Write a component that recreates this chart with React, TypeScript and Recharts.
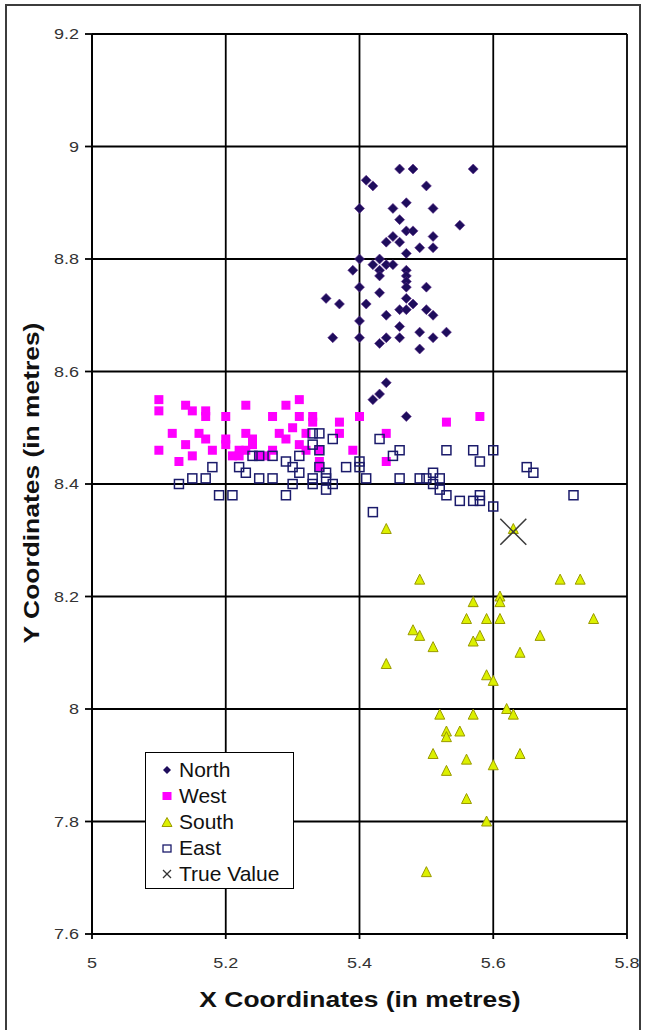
import { ScatterChart, Scatter, XAxis, YAxis, CartesianGrid } from "recharts";

const xTicks = [5, 5.2, 5.4, 5.6, 5.8];
const yTicks = [7.6, 7.8, 8, 8.2, 8.4, 8.6, 8.8, 9, 9.2];

// [x, y] in metres
const north = [
  [5.46, 8.96], [5.48, 8.96], [5.57, 8.96], [5.41, 8.94], [5.42, 8.93], [5.5, 8.93],
  [5.47, 8.9], [5.4, 8.89], [5.45, 8.89], [5.51, 8.89], [5.46, 8.87], [5.55, 8.86],
  [5.47, 8.85], [5.48, 8.85], [5.45, 8.84], [5.51, 8.84], [5.44, 8.83], [5.46, 8.83],
  [5.49, 8.82], [5.51, 8.82], [5.47, 8.81], [5.4, 8.8], [5.43, 8.8], [5.44, 8.79],
  [5.45, 8.79], [5.42, 8.79], [5.43, 8.78], [5.39, 8.78], [5.47, 8.78], [5.43, 8.77],
  [5.47, 8.77], [5.47, 8.76], [5.47, 8.75], [5.4, 8.75], [5.5, 8.75], [5.43, 8.74],
  [5.35, 8.73], [5.37, 8.72], [5.41, 8.72], [5.47, 8.73], [5.48, 8.72], [5.46, 8.71],
  [5.47, 8.71], [5.5, 8.71], [5.44, 8.7], [5.51, 8.7], [5.4, 8.69], [5.46, 8.68],
  [5.36, 8.66], [5.4, 8.66], [5.43, 8.65], [5.44, 8.66], [5.46, 8.66], [5.49, 8.67],
  [5.51, 8.66], [5.53, 8.67], [5.49, 8.64], [5.44, 8.58], [5.43, 8.56], [5.42, 8.55],
  [5.47, 8.52],
];

const west = [
  [5.1, 8.55], [5.1, 8.53], [5.1, 8.46], [5.12, 8.49], [5.14, 8.54], [5.15, 8.53],
  [5.17, 8.53], [5.17, 8.52], [5.2, 8.52], [5.23, 8.54], [5.14, 8.47], [5.15, 8.45],
  [5.13, 8.44], [5.16, 8.49], [5.17, 8.48], [5.18, 8.46], [5.2, 8.48], [5.2, 8.47],
  [5.21, 8.45], [5.22, 8.46], [5.22, 8.45], [5.23, 8.49], [5.29, 8.54], [5.31, 8.55],
  [5.27, 8.52], [5.31, 8.52], [5.33, 8.52], [5.37, 8.51], [5.37, 8.49], [5.4, 8.52],
  [5.24, 8.48], [5.24, 8.47], [5.28, 8.49], [5.29, 8.48], [5.31, 8.47], [5.32, 8.46],
  [5.34, 8.46], [5.39, 8.46], [5.34, 8.43], [5.26, 8.45], [5.23, 8.46], [5.27, 8.46],
  [5.53, 8.51], [5.58, 8.52], [5.44, 8.49], [5.44, 8.44], [5.33, 8.51], [5.34, 8.44],
  [5.25, 8.45], [5.3, 8.5], [5.32, 8.49],
];

const south = [
  [5.44, 8.32], [5.63, 8.32], [5.49, 8.23], [5.7, 8.23], [5.73, 8.23], [5.57, 8.19],
  [5.61, 8.2], [5.61, 8.19], [5.56, 8.16], [5.59, 8.16], [5.61, 8.16], [5.75, 8.16],
  [5.48, 8.14], [5.49, 8.13], [5.58, 8.13], [5.67, 8.13], [5.57, 8.12], [5.51, 8.11],
  [5.64, 8.1], [5.44, 8.08], [5.59, 8.06], [5.6, 8.05], [5.62, 8.0], [5.63, 7.99],
  [5.52, 7.99], [5.57, 7.99], [5.53, 7.96], [5.55, 7.96], [5.53, 7.95], [5.51, 7.92],
  [5.56, 7.91], [5.64, 7.92], [5.6, 7.9], [5.53, 7.89], [5.56, 7.84], [5.59, 7.8],
  [5.5, 7.71],
];

const east = [
  [5.13, 8.4], [5.15, 8.41], [5.17, 8.41], [5.18, 8.43], [5.19, 8.38], [5.21, 8.38],
  [5.22, 8.43], [5.23, 8.42], [5.24, 8.45], [5.25, 8.41], [5.25, 8.45], [5.27, 8.45],
  [5.27, 8.41], [5.29, 8.44], [5.29, 8.38], [5.3, 8.43], [5.3, 8.4], [5.31, 8.45],
  [5.31, 8.42], [5.33, 8.41], [5.33, 8.4], [5.33, 8.49], [5.33, 8.47], [5.34, 8.49],
  [5.34, 8.46], [5.34, 8.43], [5.35, 8.42], [5.35, 8.41], [5.35, 8.39], [5.36, 8.48],
  [5.36, 8.4], [5.38, 8.43], [5.43, 8.48], [5.46, 8.46], [5.45, 8.45], [5.53, 8.46],
  [5.57, 8.46], [5.6, 8.46], [5.58, 8.44], [5.4, 8.44], [5.4, 8.43], [5.41, 8.41],
  [5.46, 8.41], [5.49, 8.41], [5.5, 8.41], [5.51, 8.42], [5.51, 8.4], [5.52, 8.41],
  [5.52, 8.39], [5.53, 8.38], [5.55, 8.37], [5.57, 8.37], [5.58, 8.38], [5.58, 8.37],
  [5.6, 8.36], [5.42, 8.35], [5.65, 8.43], [5.66, 8.42], [5.72, 8.38],
];

const trueValue = [[5.63, 8.315]];

const legendNames = ["North", "West", "South", "East", "True Value"];

const toPts = (arr: number[][]) => arr.map(([x, y]) => ({ x, y }));

const font = "'Liberation Sans', Arial, sans-serif";

const NORTH_C = "#1e0d5c";
const WEST_C = "#ff00ff";
const SOUTH_FILL = "#dcf000";
const SOUTH_LINE = "#9a9a00";
const EAST_C = "#1b1b6b";

// the original is a bit stretched sideways, so text is too
const STRETCH = 1.2;

const Diamond = (p: any) => {
  const r = 5;
  return (
    <path
      d={`M${p.cx},${p.cy - r}L${p.cx + r},${p.cy}L${p.cx},${p.cy + r}L${p.cx - r},${p.cy}Z`}
      fill={NORTH_C}
      stroke="#5a2a8a"
      strokeWidth={0.6}
    />
  );
};

const FilledSquare = (p: any) => (
  <rect x={p.cx - 4.5} y={p.cy - 4.5} width={9} height={9} fill={WEST_C} />
);

const Triangle = (p: any) => (
  <path
    d={`M${p.cx},${p.cy - 5.5}L${p.cx + 5},${p.cy + 4.5}L${p.cx - 5},${p.cy + 4.5}Z`}
    fill={SOUTH_FILL}
    stroke={SOUTH_LINE}
    strokeWidth={1}
  />
);

const OpenSquare = (p: any) => (
  <rect x={p.cx - 4.5} y={p.cy - 4.5} width={9} height={9} fill="none" stroke={EAST_C} strokeWidth={1.5} />
);

const BigCross = (p: any) => {
  const r = 13;
  return (
    <g stroke="#3a3a3a" strokeWidth={1.5}>
      <line x1={p.cx - r} y1={p.cy - r} x2={p.cx + r} y2={p.cy + r} />
      <line x1={p.cx - r} y1={p.cy + r} x2={p.cx + r} y2={p.cy - r} />
    </g>
  );
};

const XTick = (p: any) => (
  <g transform={`translate(${p.x},${p.y})`}>
    <text transform={`scale(${STRETCH},1)`} textAnchor="middle" dy="0.71em" fontSize={15} fontFamily={font} fill="#333">
      {p.payload.value}
    </text>
  </g>
);

const YTick = (p: any) => (
  <g transform={`translate(${p.x},${p.y})`}>
    <text transform={`scale(${STRETCH},1)`} textAnchor="end" dy="0.35em" fontSize={15} fontFamily={font} fill="#333">
      {p.payload.value}
    </text>
  </g>
);

function LegendIcon({ i }: { i: number }) {
  return (
    <svg width={12} height={12} style={{ marginRight: 6 }}>
      {i === 0 && <path d="M6,2L10,6L6,10L2,6Z" fill={NORTH_C} />}
      {i === 1 && <rect x={1.5} y={2} width={9} height={8} fill={WEST_C} />}
      {i === 2 && <path d="M6,1.5L11,10.5L1,10.5Z" fill={SOUTH_FILL} stroke={SOUTH_LINE} />}
      {i === 3 && <rect x={2} y={3} width={8} height={7} fill="none" stroke={EAST_C} strokeWidth={1.3} />}
      {i === 4 && (
        <g stroke="#333" strokeWidth={1.2}>
          <line x1={2} y1={2} x2={10} y2={10} />
          <line x1={2} y1={10} x2={10} y2={2} />
        </g>
      )}
    </svg>
  );
}

export default function App() {
  return (
    <div style={{ position: "absolute", left: 0, top: 0, width: 646, height: 1030, overflow: "hidden", background: "#fff" }}>
      <div
        style={{
          position: "absolute",
          left: 5,
          top: 4,
          width: 632,
          height: 1040,
          border: "2px solid #3c3c3c",
        }}
      />
      <ScatterChart width={646} height={1030} margin={{ top: 34, right: 19, bottom: 36, left: 40 }}>
        <CartesianGrid stroke="#000" strokeWidth={1.8} />
        <XAxis
          type="number"
          dataKey="x"
          domain={[5, 5.8]}
          ticks={xTicks}
          height={60}
          stroke="#000"
          strokeWidth={1.8}
          tickSize={5}
          tickMargin={18}
          tick={XTick}
        />
        <YAxis
          type="number"
          dataKey="y"
          domain={[7.6, 9.2]}
          ticks={yTicks}
          width={52}
          stroke="#000"
          strokeWidth={1.8}
          tickSize={7}
          tickMargin={6}
          tick={YTick}
        />
        <Scatter name="North" data={toPts(north)} shape={Diamond} isAnimationActive={false} />
        <Scatter name="West" data={toPts(west)} shape={FilledSquare} isAnimationActive={false} />
        <Scatter name="South" data={toPts(south)} shape={Triangle} isAnimationActive={false} />
        <Scatter name="East" data={toPts(east)} shape={OpenSquare} isAnimationActive={false} />
        <Scatter name="True Value" data={toPts(trueValue)} shape={BigCross} isAnimationActive={false} />
      </ScatterChart>

      {/* legend box over the grid */}
      <div
        style={{
          position: "absolute",
          left: 145,
          top: 752,
          width: 149,
          height: 137,
          border: "1.5px solid #000",
          background: "#fff",
          fontFamily: font,
          fontSize: 21,
          color: "#111",
          padding: "4px 0 0 15px",
          boxSizing: "border-box",
        }}
      >
        {legendNames.map((n, i) => (
          <div key={n} style={{ display: "flex", alignItems: "center", height: 26, whiteSpace: "nowrap" }}>
            <LegendIcon i={i} />
            <span>{n}</span>
          </div>
        ))}
      </div>

      <div
        style={{
          position: "absolute",
          left: 360,
          top: 1000,
          transform: `translate(-50%, -50%) scale(${STRETCH},1)`,
          whiteSpace: "nowrap",
          fontFamily: font,
          fontWeight: "bold",
          fontSize: 22,
          color: "#111",
        }}
      >
        X Coordinates (in metres)
      </div>
      <div
        style={{
          position: "absolute",
          left: 32,
          top: 483,
          transform: `translate(-50%, -50%) rotate(-90deg) scale(${STRETCH},1)`,
          whiteSpace: "nowrap",
          fontFamily: font,
          fontWeight: "bold",
          fontSize: 22,
          color: "#111",
        }}
      >
        Y Coordinates (in metres)
      </div>
    </div>
  );
}
